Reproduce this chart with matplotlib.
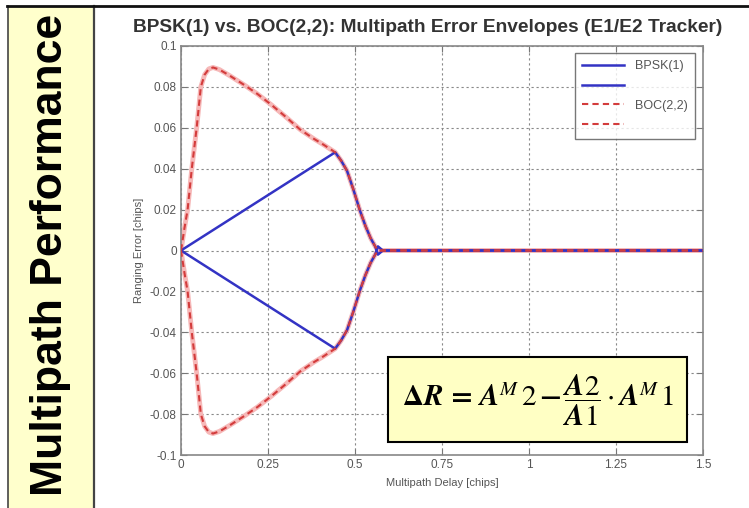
import matplotlib
matplotlib.use("Agg")
import matplotlib.pyplot as plt
from matplotlib.patches import Rectangle
from matplotlib.lines import Line2D

# multipath delay grid [chips] and error envelopes [chips]
delay_boc = [0, 0.01, 0.019, 0.031, 0.045, 0.057, 0.068, 0.08, 0.092, 0.11, 0.14, 0.184,
             0.22, 0.26, 0.30, 0.342, 0.38, 0.41, 0.443, 0.46, 0.477, 0.495, 0.514,
             0.53, 0.545, 0.558, 0.566, 0.58, 1.5]
boc_upper = [0, 0.011, 0.02, 0.04, 0.06, 0.08, 0.086, 0.0888, 0.0895, 0.0885, 0.0855, 0.0807,
             0.0765, 0.0712, 0.0655, 0.0592, 0.0548, 0.0517, 0.048, 0.044, 0.039, 0.030, 0.0196,
             0.012, 0.006, 0.002, 0, 0, 0]
boc_lower = [-v for v in boc_upper]

delay_bpsk = [0, 0.443, 0.46, 0.477, 0.495, 0.514, 0.53, 0.545, 0.558, 0.566, 0.58, 1.5]
bpsk_upper = [0, 0.048, 0.044, 0.039, 0.030, 0.0196, 0.012, 0.006, 0.002, -0.002, 0, 0]
bpsk_lower = [-v for v in bpsk_upper]

xticks = [0, 0.25, 0.5, 0.75, 1, 1.25, 1.5]
xtick_labels = ['0', '0.25', '0.5', '0.75', '1', '1.25', '1.5']
yticks = [-0.1, -0.08, -0.06, -0.04, -0.02, 0, 0.02, 0.04, 0.06, 0.08, 0.1]
ytick_labels = ['-0.1', '-0.08', '-0.06', '-0.04', '-0.02', '0', '0.02', '0.04', '0.06', '0.08', '0.1']

W, H = 749, 508
fig = plt.figure(figsize=(W / 100, H / 100), dpi=100)
fig.patch.set_facecolor('white')

def fx(px):
    return px / W

def fy(py):
    return 1 - py / H

sans = ['Liberation Sans', 'DejaVu Sans']
grey = '#555555'

# yellow side band with the slide heading
fig.patches.append(Rectangle((fx(8), 0), fx(94) - fx(8), fy(7), transform=fig.transFigure,
                             facecolor='#ffffcc', edgecolor='none', zorder=0))
fig.add_artist(Line2D([fx(8), fx(8)], [0, fy(6)], color='#444444', lw=1.2))
fig.add_artist(Line2D([fx(94), fx(94)], [0, fy(6)], color='#444444', lw=1.6))
fig.add_artist(Line2D([fx(7), 1], [fy(6), fy(6)], color='#111111', lw=2))
fig.text(fx(51), fy(255), 'Multipath Performance', rotation=90, ha='center', va='center',
         fontsize=32, fontweight='bold', family=sans, color='black')

# plot area
ax = fig.add_axes([fx(181), fy(455), fx(703) - fx(181), (455 - 46) / H])
ax.plot(delay_boc, boc_upper, color='#f6b8b8', lw=3.5, solid_capstyle='round', zorder=2)
ax.plot(delay_boc, boc_lower, color='#f6b8b8', lw=3.5, solid_capstyle='round', zorder=2)
ax.plot(delay_bpsk, bpsk_upper, color='#3333c4', lw=1.8, label='BPSK(1)', zorder=3)
ax.plot(delay_bpsk, bpsk_lower, color='#3333c4', lw=1.8, label=' ', zorder=3)
ax.plot(delay_boc, boc_upper, color='#d33c3c', lw=1.5, ls=(0, (3, 2)), label='BOC(2,2)', zorder=4)
ax.plot(delay_boc, boc_lower, color='#d33c3c', lw=1.5, ls=(0, (3, 2)), label=' ', zorder=4)

ax.set_xlim(0, 1.5)
ax.set_ylim(-0.1, 0.1)
ax.set_xticks(xticks)
ax.set_xticklabels(xtick_labels)
ax.set_yticks(yticks)
ax.set_yticklabels(ytick_labels)
ax.grid(True, color='#888888', lw=0.8, ls=(0, (2, 2.5)))
ax.tick_params(direction='in', length=4, color='#777777', labelcolor=grey, labelsize=8.5,
               top=True, right=True, pad=3)
for lab in ax.get_xticklabels() + ax.get_yticklabels():
    lab.set_family(sans)
for sp in ax.spines.values():
    sp.set_color('#888888')
    sp.set_linewidth(1.2)

ax.set_xlabel('Multipath Delay [chips]', fontsize=8, color=grey, family=sans, labelpad=5)
ax.set_ylabel('Ranging Error [chips]', fontsize=8, color=grey, family=sans, labelpad=4)
fig.text(fx(428), fy(28), 'BPSK(1) vs. BOC(2,2): Multipath Error Envelopes (E1/E2 Tracker)',
         fontsize=13.8, fontweight='bold', color='#333333', family=sans,
         ha='center', va='center')

leg = ax.legend(loc='upper right', bbox_to_anchor=((695 - 181) / 522, (455 - 53) / 409),
                frameon=True, fancybox=False, handlelength=3.3, labelspacing=0.6,
                borderpad=0.6, handletextpad=0.9, borderaxespad=0,
                prop={'family': sans, 'size': 9})
leg.get_frame().set_edgecolor('#555555')
leg.get_frame().set_linewidth(1.0)
for t in leg.get_texts():
    t.set_color(grey)

# formula box
fig.patches.append(Rectangle((fx(388), fy(442)), fx(687) - fx(388), (442 - 357) / H,
                             transform=fig.transFigure, facecolor='#ffffc4',
                             edgecolor='black', lw=1.5, zorder=5))
fig.text(fx(538), fy(400),
         r'$\mathbf{\Delta}\mathbfit{R}\,\mathbf{=}\,\mathbfit{A}^{\mathit{M}}\,2\,\mathbf{-}\,'
         r'\dfrac{\mathbfit{A}2}{\mathbfit{A}1}\cdot\mathbfit{A}^{\mathit{M}}\,1$',
         math_fontfamily='stix', fontsize=21, ha='center', va='center', zorder=6)

fig.savefig('out.png', dpi=100)
